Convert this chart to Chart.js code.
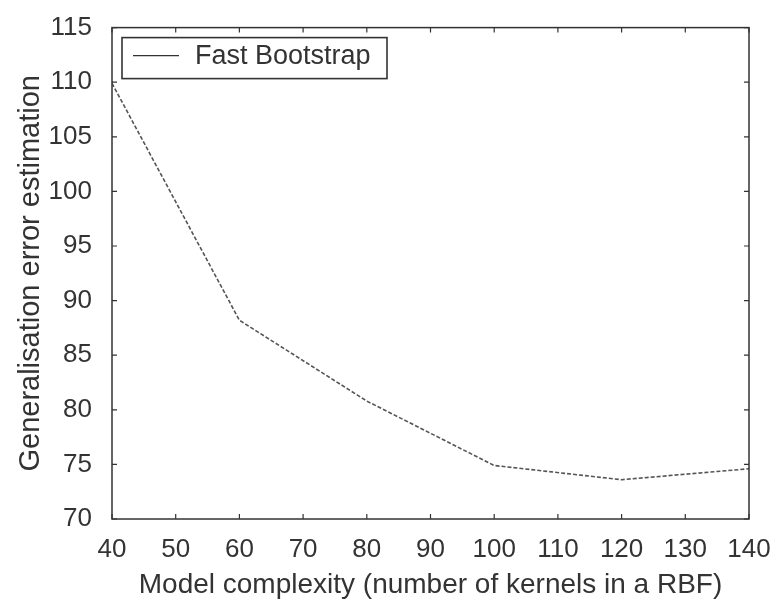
<!DOCTYPE html>
<html>
<head>
<meta charset="utf-8">
<script src="https://cdn.jsdelivr.net/npm/chart.js@4"></script>
<style>
  html, body { margin: 0; padding: 0; background: #fff; }
  #box { width: 779px; height: 599px; }
</style>
</head>
<body>
<div id="box"><canvas id="grafico"></canvas></div>
<script>
// datos
const kernels = [40, 60, 80, 100, 120, 140];
const errorFastBootstrap = [109.9, 88.2, 80.8, 74.9, 73.6, 74.6];
const serieNombre = "Fast Bootstrap";
const tituloX = "Model complexity (number of kernels in a RBF)";
const tituloY = "Generalisation error estimation";

const fuente = "'Liberation Sans', Arial, sans-serif";

// marco y ticks hacia adentro en los cuatro lados
const marcoPlugin = {
  id: "marco",
  afterDraw(chart) {
    const ctx = chart.ctx;
    const a = chart.chartArea;
    const sx = chart.scales.x;
    const sy = chart.scales.y;
    const largo = 5;
    ctx.save();
    ctx.strokeStyle = "#333";
    ctx.lineWidth = 1.5;
    ctx.strokeRect(a.left, a.top, a.right - a.left, a.bottom - a.top);
    ctx.lineWidth = 1.2;
    ctx.beginPath();
    sx.ticks.forEach((t) => {
      const px = sx.getPixelForValue(t.value);
      ctx.moveTo(px, a.bottom); ctx.lineTo(px, a.bottom - largo);
      ctx.moveTo(px, a.top); ctx.lineTo(px, a.top + largo);
    });
    sy.ticks.forEach((t) => {
      const py = sy.getPixelForValue(t.value);
      ctx.moveTo(a.left, py); ctx.lineTo(a.left + largo, py);
      ctx.moveTo(a.right, py); ctx.lineTo(a.right - largo, py);
    });
    ctx.stroke();

    // leyenda dentro del area
    const lx = a.left + 10, ly = a.top + 10, lw = 265, lh = 41;
    ctx.fillStyle = "#fff";
    ctx.fillRect(lx, ly, lw, lh);
    ctx.lineWidth = 1.6;
    ctx.strokeStyle = "#333";
    ctx.strokeRect(lx, ly, lw, lh);
    ctx.beginPath();
    ctx.lineWidth = 1.2;
    ctx.moveTo(lx + 11, ly + 18);
    ctx.lineTo(lx + 57, ly + 18);
    ctx.stroke();
    ctx.fillStyle = "#333";
    ctx.font = "27px " + fuente;
    ctx.textBaseline = "middle";
    ctx.fillText(serieNombre, lx + 73, ly + 19);
    ctx.restore();
  }
};

const config = {
  type: "line",
  data: {
    datasets: [
      {
        label: serieNombre,
        data: kernels.map((k, i) => ({ x: k, y: errorFastBootstrap[i] })),
        borderColor: "#555",
        borderWidth: 1.6,
        borderDash: [4, 2],
        pointRadius: 0,
        tension: 0,
        fill: false
      }
    ]
  },
  options: {
    responsive: false,
    animation: false,
    layout: { padding: { top: 13, right: 30, bottom: 0, left: 0 } },
    plugins: { legend: { display: false }, tooltip: { enabled: false } },
    scales: {
      x: {
        type: "linear",
        min: 40,
        max: 140,
        ticks: { stepSize: 10, color: "#333", font: { family: fuente, size: 26 }, padding: 7, maxRotation: 0 },
        grid: { display: false },
        border: { display: false },
        title: { display: true, text: tituloX, color: "#333", font: { family: fuente, size: 28, lineHeight: 1 }, padding: { top: 0, bottom: 0 } },
        afterFit(s) { s.height = 80; }
      },
      y: {
        min: 70,
        max: 115,
        ticks: { stepSize: 5, color: "#333", font: { family: fuente, size: 26 }, padding: 12 },
        grid: { display: false },
        border: { display: false },
        title: { display: true, text: tituloY, color: "#333", font: { family: fuente, size: 29 }, padding: { top: 14, bottom: 4 } },
        afterFit(s) { s.width = 112; }
      }
    }
  },
  plugins: [marcoPlugin]
};

const lienzo = document.getElementById("grafico");
lienzo.width = 779;
lienzo.height = 599;
window.grafico = new Chart(lienzo.getContext("2d"), config);
</script>
</body>
</html>
